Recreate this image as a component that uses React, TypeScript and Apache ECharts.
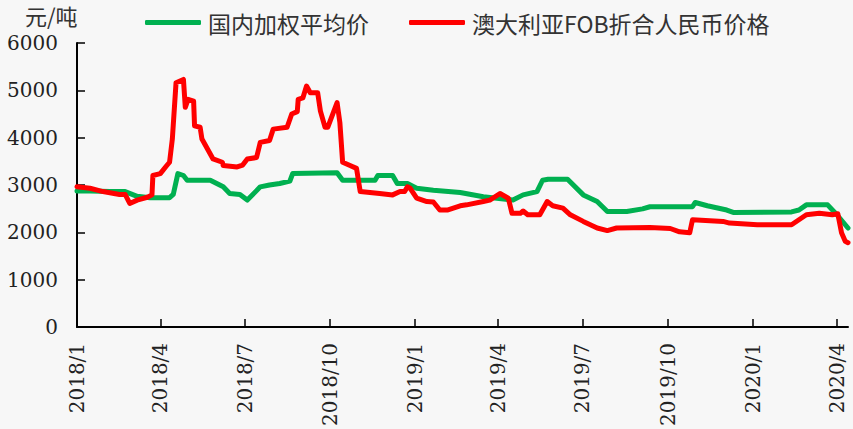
import React, { useEffect, useRef } from "react";
import * as echarts from "echarts";

const unitLabel = "元/吨";
const seriesNames = ["国内加权平均价", "澳大利亚FOB折合人民币价格"];
const startDate = "2018-01-01";
const endDate = "2020-04-13";
const yTicks = { min: 0, max: 6000, interval: 1000 };

const domesticDates = [
  "2018-01-01", "2018-01-15", "2018-02-06", "2018-02-22", "2018-03-07", "2018-03-21", "2018-04-11",
  "2018-04-15", "2018-04-20", "2018-04-26", "2018-04-30", "2018-05-25", "2018-06-08", "2018-06-15",
  "2018-06-26", "2018-07-04", "2018-07-18", "2018-07-28", "2018-08-08", "2018-08-19", "2018-08-22",
  "2018-10-09", "2018-10-15", "2018-11-19", "2018-11-22", "2018-12-08", "2018-12-13", "2018-12-24",
  "2019-01-03", "2019-01-21", "2019-02-19", "2019-03-16", "2019-04-17", "2019-04-28", "2019-05-13",
  "2019-05-19", "2019-05-25", "2019-06-15", "2019-07-02", "2019-07-17", "2019-07-28", "2019-08-18",
  "2019-09-04", "2019-09-12", "2019-10-28", "2019-10-31", "2019-11-13", "2019-12-04", "2019-12-11",
  "2020-02-12", "2020-02-20", "2020-02-28", "2020-03-22", "2020-04-01", "2020-04-13",
];
const domesticValues = [
  2870, 2870, 2860, 2860, 2760, 2730, 2730,
  2800, 3240, 3200, 3100, 3100, 2960, 2820,
  2800, 2680, 2960, 3000, 3030, 3080, 3240,
  3260, 3100, 3100, 3200, 3200, 3030, 3030,
  2930, 2890, 2840, 2750, 2680, 2790, 2860,
  3100, 3120, 3120, 2790, 2650, 2440, 2440,
  2495, 2540, 2540, 2630, 2560, 2470, 2420,
  2430, 2470, 2580, 2580, 2370, 2090,
];

const fobDates = [
  "2018-01-01", "2018-01-15", "2018-01-29", "2018-02-16", "2018-02-22", "2018-02-27", "2018-03-07",
  "2018-03-18", "2018-03-23", "2018-03-24", "2018-04-01", "2018-04-08", "2018-04-11", "2018-04-14",
  "2018-04-18", "2018-04-26", "2018-04-28", "2018-05-01", "2018-05-07", "2018-05-08", "2018-05-14",
  "2018-05-16", "2018-05-28", "2018-06-07", "2018-06-08", "2018-06-23", "2018-06-29", "2018-07-04",
  "2018-07-14", "2018-07-18", "2018-07-28", "2018-08-01", "2018-08-16", "2018-08-21", "2018-08-27",
  "2018-08-28", "2018-09-02", "2018-09-06", "2018-09-10", "2018-09-18", "2018-09-21", "2018-09-26",
  "2018-09-29", "2018-10-09", "2018-10-12", "2018-10-15", "2018-10-23", "2018-10-30", "2018-11-03",
  "2018-11-24", "2018-12-08", "2018-12-16", "2018-12-21", "2018-12-24", "2018-12-27", "2019-01-03",
  "2019-01-14", "2019-01-21", "2019-01-28", "2019-02-05", "2019-02-19", "2019-02-26", "2019-03-16",
  "2019-03-23", "2019-04-03", "2019-04-12", "2019-04-16", "2019-04-25", "2019-04-28", "2019-05-03",
  "2019-05-16", "2019-05-24", "2019-05-30", "2019-06-10", "2019-06-18", "2019-07-02", "2019-07-17",
  "2019-07-28", "2019-08-07", "2019-09-12", "2019-10-04", "2019-10-14", "2019-10-25", "2019-10-28",
  "2019-11-30", "2019-12-07", "2020-01-06", "2020-02-12", "2020-02-20", "2020-02-28", "2020-03-13",
  "2020-03-27", "2020-04-02", "2020-04-06", "2020-04-10", "2020-04-13",
];
const fobValues = [
  2960, 2930, 2860, 2800, 2800, 2610, 2680,
  2740, 2790, 3200, 3240, 3410, 3480, 3970,
  5160, 5230, 4640, 4810, 4770, 4250, 4220,
  3970, 3550, 3480, 3410, 3380, 3420, 3550,
  3580, 3900, 3940, 4180, 4220, 4500, 4550,
  4810, 4840, 5090, 4950, 4950, 4560, 4220,
  4220, 4740, 4320, 3480, 3410, 3350, 2860,
  2820, 2790, 2860, 2860, 2960, 2930, 2720,
  2650, 2640, 2470, 2470, 2560, 2580, 2650,
  2680, 2820, 2720, 2400, 2400, 2450, 2370,
  2370, 2650, 2560, 2510, 2370, 2230, 2090,
  2035, 2090, 2100, 2080, 2010, 1990, 2265,
  2230, 2195, 2160, 2160, 2265, 2370, 2400,
  2370, 2390, 1990, 1810, 1780,
];

function buildDays(from: string, to: string): string[] {
  const out: string[] = [];
  let t = Date.parse(from + "T00:00:00Z");
  const end = Date.parse(to + "T00:00:00Z");
  while (t <= end) {
    out.push(new Date(t).toISOString().slice(0, 10));
    t += 86400000;
  }
  return out;
}

const isQuarterStart = (value: string) => {
  const m = Number(value.slice(5, 7));
  return value.slice(8, 10) === "01" && (m - 1) % 3 === 0;
};

export default function App() {
  const ref = useRef<HTMLDivElement>(null);
  useEffect(() => {
    if (!ref.current) return;
    const chart = echarts.init(ref.current, null, { renderer: "svg" });
    const days = buildDays(startDate, endDate);
    const cjk = "Noto Sans CJK SC";
    const serif = "DejaVu Serif";
    chart.setOption({
      animation: false,
      backgroundColor: "#f7f7f7",
      graphic: [
        {
          type: "text",
          left: 25,
          top: 4,
          style: { text: unitLabel, fontSize: 22, fontFamily: cjk, fill: "#333" },
        },
      ],
      legend: {
        left: 140,
        top: 6,
        itemWidth: 56,
        itemHeight: 5,
        itemGap: 40,
        icon: "roundRect",
        textStyle: { fontSize: 23, color: "#333", fontFamily: cjk, padding: [0, 0, 0, 2] },
        data: seriesNames,
      },
      grid: { left: 77, top: 43, right: 5, bottom: 98, containLabel: false },
      xAxis: {
        type: "category",
        data: days,
        boundaryGap: false,
        axisLine: { lineStyle: { color: "#000", width: 2 } },
        axisTick: {
          inside: true,
          length: 8,
          interval: (_i: number, v: string) => isQuarterStart(v),
          lineStyle: { color: "#000", width: 1.5 },
        },
        axisLabel: {
          interval: (_i: number, v: string) => isQuarterStart(v),
          rotate: 90,
          margin: 16,
          fontSize: 20,
          fontFamily: serif,
          color: "#222",
          formatter: (v: string) => `${Number(v.slice(0, 4))}/${Number(v.slice(5, 7))}`,
        },
        splitLine: { show: false },
      },
      yAxis: {
        type: "value",
        min: yTicks.min,
        max: yTicks.max,
        interval: yTicks.interval,
        axisLine: { show: true, lineStyle: { color: "#000", width: 2 } },
        axisTick: { show: true, inside: true, length: 8, lineStyle: { color: "#000", width: 1.5 } },
        axisLabel: {
          margin: 19,
          fontSize: 20,
          fontFamily: serif,
          color: "#222",
          formatter: (v: number) => String(v),
        },
        splitLine: { show: false },
      },
      series: [
        {
          name: seriesNames[0],
          type: "line",
          showSymbol: false,
          symbol: "none",
          itemStyle: { color: "#00b050" },
          lineStyle: { color: "#00b050", width: 5, join: "round", cap: "round" },
          data: domesticDates.map((d, i) => [d, domesticValues[i]]),
        },
        {
          name: seriesNames[1],
          type: "line",
          showSymbol: false,
          symbol: "none",
          itemStyle: { color: "#ff0000" },
          lineStyle: { color: "#ff0000", width: 5, join: "round", cap: "round" },
          data: fobDates.map((d, i) => [d, fobValues[i]]),
        },
      ],
    });
    return () => chart.dispose();
  }, []);
  return <div ref={ref} style={{ width: 853, height: 429, position: "absolute", left: 0, top: 0 }} />;
}
